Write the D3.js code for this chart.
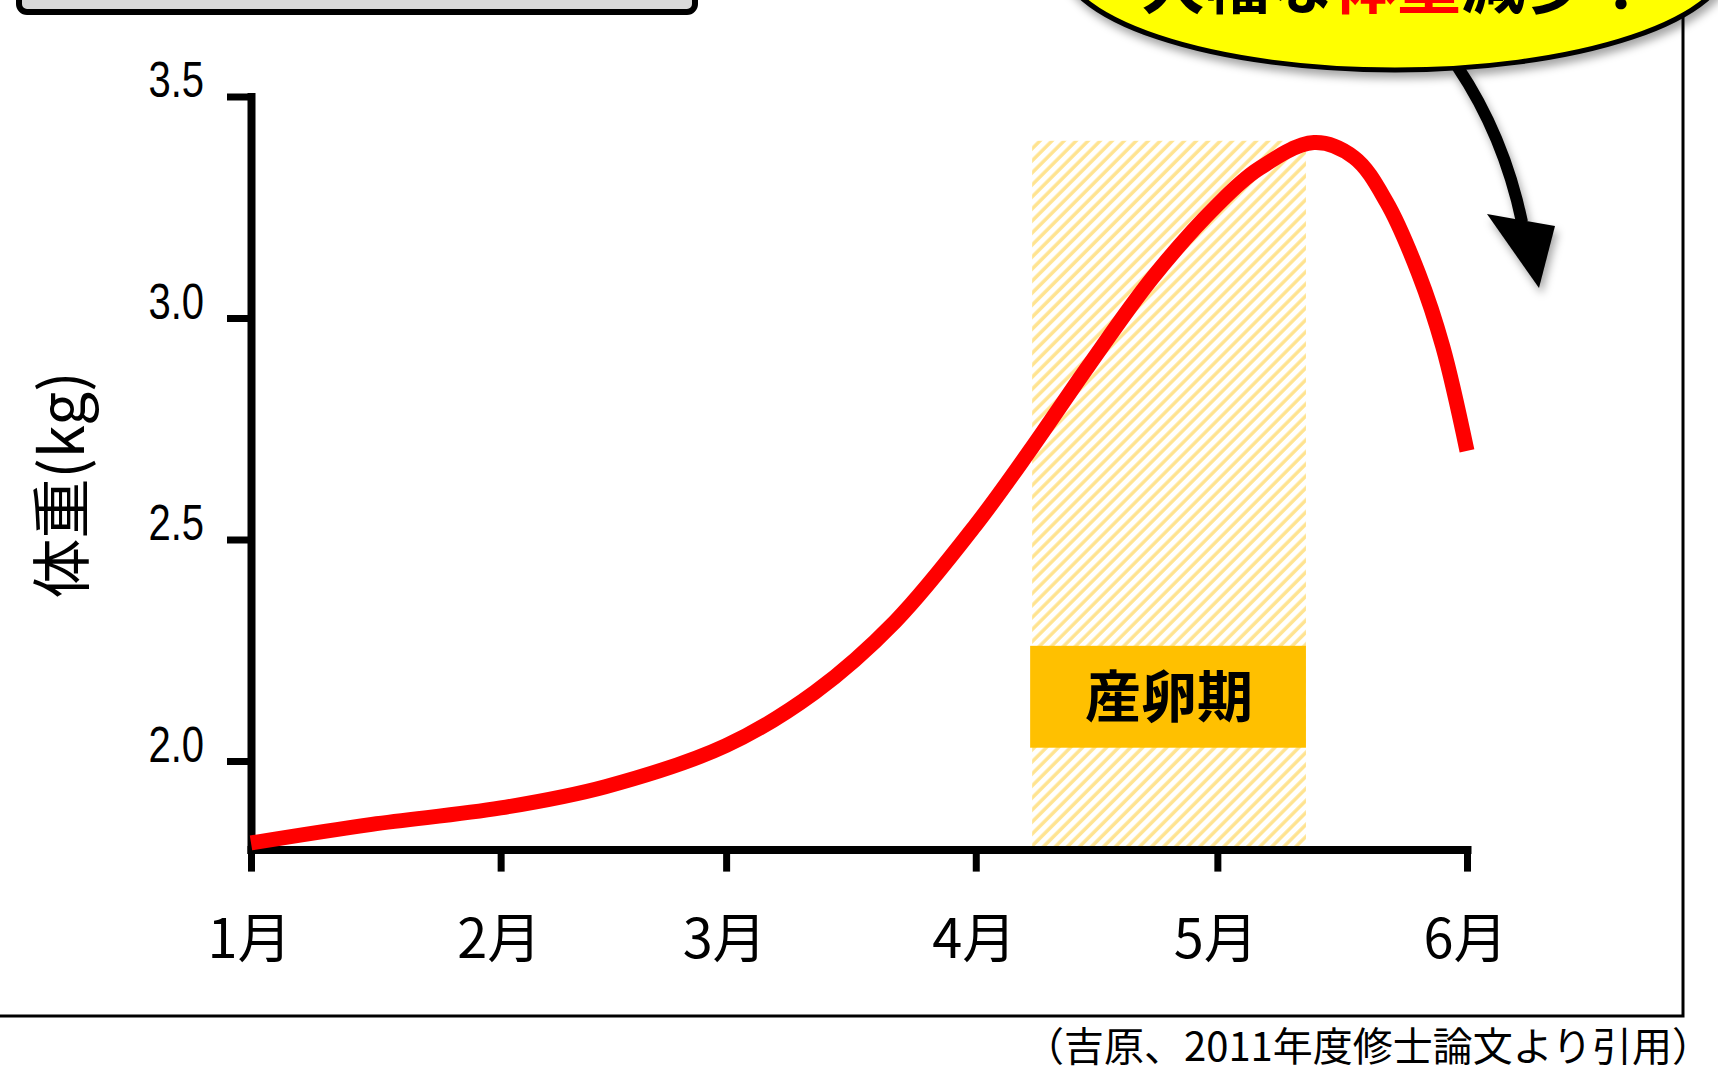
<!DOCTYPE html>
<html>
<head>
<meta charset="utf-8">
<script src="https://cdn.jsdelivr.net/npm/d3@7"></script>
<style>
  html, body { margin: 0; padding: 0; background: #fff; overflow: hidden; }
  svg { display: block; }
</style>
</head>
<body>
<svg id="chart" width="1718" height="1081"></svg>
<script>
// Month ticks on the time axis
const monthLabels = ["1月", "2月", "3月", "4月", "5月", "6月"];
const monthStarts = ["2011-01-01", "2011-02-01", "2011-03-01", "2011-04-01", "2011-05-01", "2011-06-01"];

// Weight axis ticks
const weightTicks = [2.0, 2.5, 3.0, 3.5];
const weightTickLabels = ["2.0", "2.5", "3.0", "3.5"];
const weightDomain = [1.8, 3.5];

// Body weight through the season (kg)
const sampleDates = [
  "2011-01-01", "2011-01-16", "2011-02-01", "2011-02-14", "2011-03-01",
  "2011-03-12", "2011-03-22", "2011-04-01", "2011-04-08", "2011-04-15",
  "2011-04-23", "2011-05-01", "2011-05-06", "2011-05-13", "2011-05-18",
  "2011-05-22", "2011-05-26", "2011-05-29", "2011-06-01"
];
const weightKg = [
  1.815, 1.857, 1.894, 1.942, 2.035,
  2.155, 2.315, 2.533, 2.708, 2.892,
  3.092, 3.255, 3.335, 3.396, 3.362,
  3.262, 3.100, 2.935, 2.700
];

// Spawning season band
const spawningPeriod = ["2011-04-08", "2011-05-12"];
const spawningTop = 3.4;
const spawningLabel = "産卵期";
const spawningLabelRange = [2.03, 2.26];

const axisTitle = "体重(kg)";
const calloutParts = [
  { text: "大幅な", color: "#000000" },
  { text: "体重", color: "#ff0000" },
  { text: "減少！", color: "#000000" }
];
const sourceNote = "（吉原、2011年度修士論文より引用）";

const parse = d3.timeParse("%Y-%m-%d");
const series = sampleDates.map((d, i) => ({ date: parse(d), v: weightKg[i] }));

const svg = d3.select("#chart");
const CJK = "'Noto Sans CJK JP', 'Noto Sans', sans-serif";

const x = d3.scaleTime()
  .domain([parse(monthStarts[0]), parse(monthStarts[monthStarts.length - 1])])
  .range([251, 1467]);
const y = d3.scaleLinear().domain(weightDomain).range([849.6, 96.5]);

// Defs: hatch pattern and shadows
const defs = svg.append("defs");
const hatch = defs.append("pattern")
  .attr("id", "hatch")
  .attr("patternUnits", "userSpaceOnUse")
  .attr("width", 8.5).attr("height", 8.5)
  .attr("patternTransform", "rotate(45)");
hatch.append("rect").attr("width", 8.5).attr("height", 8.5).attr("fill", "#ffffff");
hatch.append("line")
  .attr("x1", 2).attr("y1", 0).attr("x2", 2).attr("y2", 8.5)
  .attr("stroke", "#ffe38f").attr("stroke-width", 3.4);

const shadow = defs.append("filter").attr("id", "shadow")
  .attr("x", "-20%").attr("y", "-20%").attr("width", "140%").attr("height", "160%");
shadow.append("feDropShadow")
  .attr("dx", 3).attr("dy", 6).attr("stdDeviation", 4)
  .attr("flood-color", "#000").attr("flood-opacity", 0.35);

// Outer frame and title box edge
svg.append("rect")
  .attr("x", -20).attr("y", -60).attr("width", 1703).attr("height", 1076)
  .attr("fill", "none").attr("stroke", "#000").attr("stroke-width", 3);
svg.append("rect")
  .attr("x", 19).attr("y", -60).attr("width", 676).attr("height", 72)
  .attr("rx", 8)
  .attr("fill", "#d9d9d9").attr("stroke", "#000").attr("stroke-width", 6);

// Spawning band
const sx0 = x(parse(spawningPeriod[0])), sx1 = x(parse(spawningPeriod[1]));
svg.append("rect")
  .attr("x", sx0).attr("y", y(spawningTop))
  .attr("width", sx1 - sx0).attr("height", y(weightDomain[0]) - y(spawningTop))
  .attr("fill", "url(#hatch)");
svg.append("rect")
  .attr("x", sx0 - 2).attr("y", y(spawningLabelRange[1]))
  .attr("width", sx1 - sx0 + 2).attr("height", y(spawningLabelRange[0]) - y(spawningLabelRange[1]))
  .attr("fill", "#ffc000");
svg.append("text")
  .attr("x", (sx0 + sx1) / 2).attr("y", (y(spawningLabelRange[0]) + y(spawningLabelRange[1])) / 2)
  .attr("dy", "0.36em")
  .attr("text-anchor", "middle")
  .attr("font-family", CJK).attr("font-weight", 700).attr("font-size", 56)
  .attr("fill", "#000")
  .text(spawningLabel);

// Axes
const xAxis = d3.axisBottom(x)
  .tickValues(monthStarts.map(parse))
  .tickFormat((d, i) => monthLabels[i])
  .tickSize(22).tickSizeOuter(0);
const gx = svg.append("g").attr("transform", `translate(0,${y(weightDomain[0])})`).call(xAxis);
gx.select(".domain").attr("stroke", "#000").attr("stroke-width", 8).attr("stroke-linecap", "square");
gx.selectAll(".tick line").attr("stroke", "#000").attr("stroke-width", 7);
gx.selectAll(".tick text")
  .attr("font-family", CJK).attr("font-size", 54).attr("fill", "#000")
  .attr("y", 108).attr("dy", 0).attr("dx", -2);

const yAxis = d3.axisLeft(y)
  .tickValues(weightTicks)
  .tickFormat((d, i) => weightTickLabels[i])
  .tickSize(24).tickSizeOuter(0);
const gy = svg.append("g").attr("transform", `translate(${x.range()[0]},0)`).call(yAxis);
gy.select(".domain").attr("stroke", "#000").attr("stroke-width", 8).attr("stroke-linecap", "square");
gy.selectAll(".tick line").attr("stroke", "#000").attr("stroke-width", 7);
gy.selectAll(".tick text")
  .attr("font-family", "'Liberation Sans', Arial, sans-serif").attr("font-size", 50).attr("fill", "#000")
  .attr("transform", "scale(0.8,1)")
  .attr("x", -47 / 0.8).attr("dy", 0);

svg.append("text")
  .attr("transform", `translate(84,485) rotate(-90)`)
  .attr("text-anchor", "middle")
  .attr("font-family", CJK).attr("font-size", 60).attr("fill", "#000")
  .text(axisTitle);

// Weight curve
const line = d3.line().x(d => x(d.date)).y(d => y(d.v)).curve(d3.curveCatmullRom.alpha(0.5));
svg.append("path")
  .datum(series)
  .attr("d", line)
  .attr("fill", "none").attr("stroke", "#ff0000").attr("stroke-width", 15)
  .attr("stroke-linecap", "butt").attr("stroke-linejoin", "round");

// Callout bubble with arrow
const callout = svg.append("g").attr("filter", "url(#shadow)");
callout.append("path")
  .attr("d", "M1457,66 C1488,112 1510,165 1522,222")
  .attr("fill", "none").attr("stroke", "#000").attr("stroke-width", 12);
callout.append("path")
  .attr("d", "M1487,214 L1555,226 L1539,288 Z")
  .attr("fill", "#000");
callout.append("ellipse")
  .attr("cx", 1395).attr("cy", -42).attr("rx", 335).attr("ry", 112)
  .attr("fill", "#ffff00").attr("stroke", "#000").attr("stroke-width", 5);
const ct = svg.append("text")
  .attr("x", 1397).attr("y", 8)
  .attr("text-anchor", "middle")
  .attr("font-family", CJK).attr("font-weight", 700).attr("font-size", 64);
ct.selectAll("tspan").data(calloutParts).join("tspan")
  .attr("fill", d => d.color)
  .text(d => d.text);

// Source note
svg.append("text")
  .attr("x", 1712).attr("y", 1061)
  .attr("text-anchor", "end")
  .attr("font-family", CJK).attr("font-size", 40).attr("fill", "#000")
  .text(sourceNote);
</script>
</body>
</html>
